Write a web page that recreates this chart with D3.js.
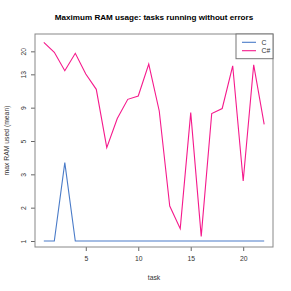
<!DOCTYPE html>
<html>
<head>
<meta charset="utf-8">
<script src="https://cdn.jsdelivr.net/npm/d3@7"></script>
<style>
  body { margin: 0; background: #fff; }
  text { font-family: "Liberation Sans", Arial, sans-serif; }
</style>
</head>
<body>
<div id="chart"></div>
<script>
let tasks = d3.range(1, 23);
let cValues = [1, 1, 3.7, 1, 1, 1, 1, 1, 1, 1, 1, 1, 1, 1, 1, 1, 1, 1, 1, 1, 1, 1];
let csValues = [22.7, 19.7, 14.1, 19.4, 13.1, 11.2, 4.6, 7.7, 10.0, 10.4, 16.1, 8.6,
                2.05, 1.37, 8.4, 1.14, 8.3, 8.9, 15.6, 2.8, 15.9, 7.0];
let yTicks = [1, 2, 3, 5, 9, 13, 20];
let yTickSteps = [0, 1, 2, 3, 4, 5, 5.69];   // axis spacing (evenly spaced ticks)
let xTicks = [5, 10, 15, 20];
let seriesNames = ['C', 'C#'];
let colors = ['#4a7bc8', '#f51a8c'];

let margin = { top: 34, right: 18, bottom: 44, left: 35 };
let width = 291 - margin.left - margin.right, height = 291 - margin.top - margin.bottom;

let svg = d3.select('#chart')
  .append('svg')
  .attr('width', 291)
  .attr('height', 291);

let graph = svg.append('g')
  .attr('transform', 'translate(' + margin.left + ', ' + margin.top + ')');

let xS = d3.scaleLinear()
  .domain([0.16, 22.84])
  .range([0, width]);

let stepS = d3.scaleLinear()
  .domain([-0.18, 6.21])
  .range([height, 0]);

let yS = d3.scaleLinear()
  .domain(yTicks)
  .range(yTickSteps.map(stepS));

// axes
let xAxis = graph.append('g')
  .attr('transform', 'translate(0, ' + height + ')')
  .call(d3.axisBottom(xS).tickValues(xTicks).tickSize(4).tickPadding(5));
xAxis.select('.domain').remove();

let yAxis = graph.append('g')
  .call(d3.axisLeft(yS).tickValues(yTicks).tickSize(4).tickPadding(3));
yAxis.select('.domain').remove();
yAxis.selectAll('text')
  .attr('transform', 'rotate(-90)')
  .attr('x', 0)
  .attr('dy', 0)
  .attr('y', -9)
  .style('text-anchor', 'middle');

graph.selectAll('.tick line').attr('stroke', '#666');
graph.selectAll('.tick text').attr('fill', '#333').style('font-size', '6.8px');

// lines
let line = d3.line()
  .x((d, i) => xS(tasks[i]))
  .y(d => yS(d));

[cValues, csValues].forEach(function(vals, k) {
  graph.append('path')
    .datum(vals)
    .attr('fill', 'none')
    .attr('stroke', colors[k])
    .attr('stroke-width', 1.1)
    .attr('d', line);
});

// box
graph.append('rect')
  .attr('width', width)
  .attr('height', height)
  .attr('fill', 'none')
  .attr('stroke', '#888')
  .attr('stroke-width', 1);

// legend
let legend = graph.append('g')
  .attr('transform', 'translate(' + (width - 37) + ', 0)');
legend.append('rect')
  .attr('width', 37)
  .attr('height', 24.7)
  .attr('fill', '#fff')
  .attr('stroke', '#777');
seriesNames.forEach(function(name, k) {
  legend.append('line')
    .attr('x1', 6).attr('x2', 20)
    .attr('y1', 8.3 + k * 8.4).attr('y2', 8.3 + k * 8.4)
    .attr('stroke', colors[k])
    .attr('stroke-width', 1.1);
  legend.append('text')
    .attr('x', 25.5)
    .attr('y', 8.3 + k * 8.4)
    .attr('dy', '0.35em')
    .attr('fill', '#333')
    .style('font-size', '6.8px')
    .text(name);
});

// titles
svg.append('text')
  .attr('x', margin.left + width / 2)
  .attr('y', 19.5)
  .attr('text-anchor', 'middle')
  .style('font-size', '8.1px')
  .style('font-weight', 'bold')
  .text('Maximum RAM usage: tasks running without errors');

svg.append('text')
  .attr('x', margin.left + width / 2)
  .attr('y', 280)
  .attr('text-anchor', 'middle')
  .attr('fill', '#333')
  .style('font-size', '6.8px')
  .text('task');

svg.append('text')
  .attr('transform', 'translate(9, ' + (margin.top + height / 2) + ') rotate(-90)')
  .attr('text-anchor', 'middle')
  .attr('fill', '#333')
  .style('font-size', '6.8px')
  .text('max RAM used (mean)');
</script>
</body>
</html>
